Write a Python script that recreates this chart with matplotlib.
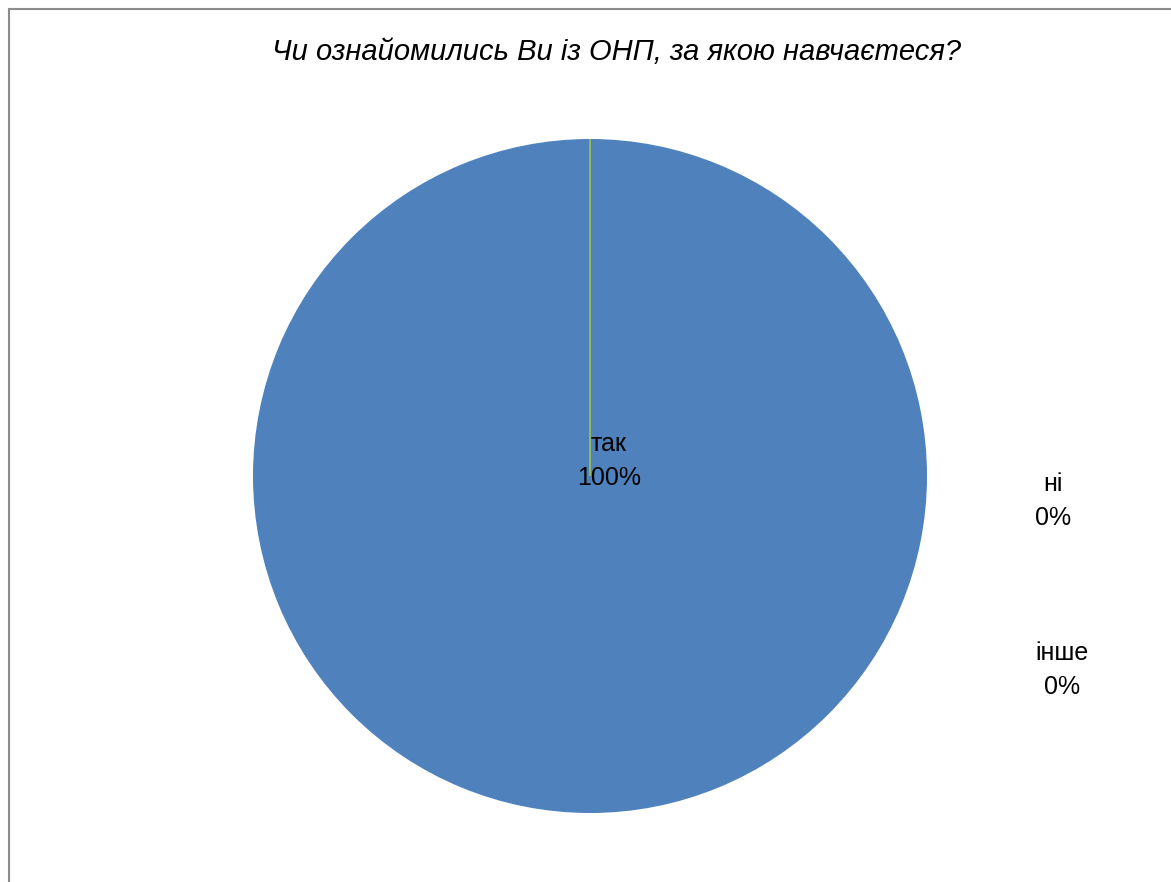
import numpy as np
import matplotlib.pyplot as plt
from matplotlib.lines import Line2D

plt.rcParams['font.family'] = ['Liberation Sans', 'DejaVu Sans']

title = 'Чи ознайомились Ви із ОНП, за якою навчаєтеся?'
labels = ['так', 'ні', 'інше']
values = [100, 0, 0]
colors = ['#4F81BD', '#C0504D', '#9BBB59']

W, H = 1171, 882
fig = plt.figure(figsize=(W/100, H/100), dpi=100)

# pie centre and radius in pixels
cx, cy, r = 590, 476, 337
ax = fig.add_axes([(cx-r)/W, (H-cy-r)/H, 2*r/W, 2*r/H])
wedges, _ = ax.pie(values, colors=colors, startangle=90, counterclock=False,
                   radius=1, wedgeprops=dict(linewidth=0))
# zero slices show up only as a thin line, only the last one is visible
for w, v, c in zip(wedges, values, colors):
    if v == 0:
        w.set_edgecolor(c)
        w.set_linewidth(1.3)
        w.set_facecolor(c)
wedges[1].set_visible(False)
ax.set_xlim(-1, 1)
ax.set_ylim(-1, 1)
ax.set_aspect('equal')
ax.axis('off')

total = sum(values)
pct = ['{:.0f}%'.format(v/total*100) for v in values]
# label positions (pixels)
pos = [(609, 461), (1053, 501), (1062, 670)]
for lab, p, (px, py) in zip(labels, pct, pos):
    fig.text(px/W, 1-py/H, lab+'\n'+p, ha='center', va='center',
             fontsize=18, linespacing=1.55, color='black')

fig.text(617/W, 1-52/H, title, ha='center', va='center',
         fontsize=21, style='italic', color='black')

# chart area border
fig.add_artist(Line2D([8.5/W, 8.5/W], [0, 1-8.5/H], color='#8c8c8c', lw=1.5))
fig.add_artist(Line2D([8.5/W, 1], [1-8.5/H, 1-8.5/H], color='#8c8c8c', lw=1.5))

fig.savefig('out.png', dpi=100)
